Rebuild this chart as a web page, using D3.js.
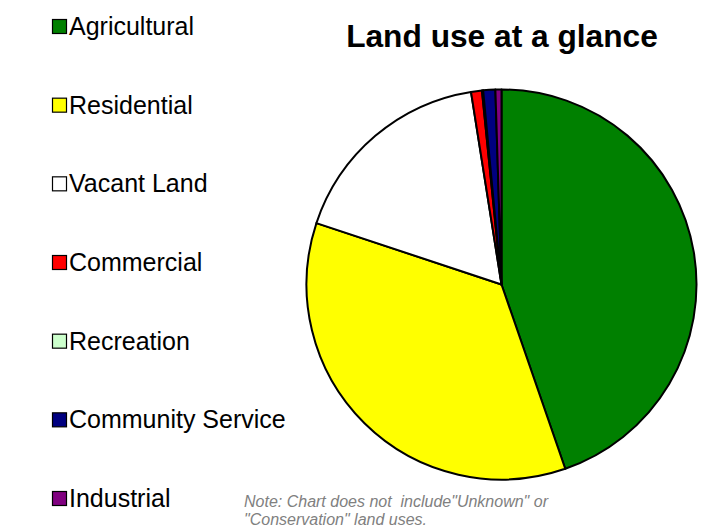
<!DOCTYPE html>
<html>
<head>
<meta charset="utf-8">
<script src="https://cdn.jsdelivr.net/npm/d3@7"></script>
<style>
  html, body { margin: 0; padding: 0; background: #fff; }
  svg { display: block; }
  text { font-family: "Liberation Sans", Arial, sans-serif; }
</style>
</head>
<body>
<svg id="chart" width="703" height="529"></svg>
<script>
// Land use shares (percent), in drawing order clockwise from 12 o'clock
const categories = ["Agricultural", "Residential", "Vacant Land", "Commercial", "Recreation", "Community Service", "Industrial"];
const shares = [44.7, 35.4, 17.4, 0.9, 0.1, 1.0, 0.5];
const colors = ["#008000", "#FFFF00", "#FFFFFF", "#FF0000", "#CCFFCC", "#000080", "#800080"];
const titleText = "Land use at a glance";
const noteLines = ["Note: Chart does not  include\"Unknown\" or", "\"Conservation\" land uses."];

const svg = d3.select("#chart");
const data = categories.map((c, i) => ({ category: c, value: shares[i], color: colors[i] }));

// Pie
const cx = 501.5, cy = 284.5, radius = 195;
const pie = d3.pie().sort(null).value(d => d.value);
const arc = d3.arc().innerRadius(0).outerRadius(radius);

svg.append("g")
  .attr("transform", `translate(${cx},${cy})`)
  .selectAll("path")
  .data(pie(data))
  .join("path")
  .attr("d", arc)
  .attr("fill", d => d.data.color)
  .attr("stroke", "#000")
  .attr("stroke-width", 2)
  .attr("stroke-linejoin", "round");

// Title
svg.append("text")
  .attr("x", 502)
  .attr("y", 47)
  .attr("text-anchor", "middle")
  .attr("font-size", 31.7)
  .attr("font-weight", "bold")
  .attr("fill", "#000")
  .text(titleText);

// Legend
const legendY = d3.scalePoint().domain(categories).range([19, 491]);
const legend = svg.append("g")
  .selectAll("g")
  .data(data)
  .join("g")
  .attr("transform", d => `translate(52,${legendY(d.category)})`);

legend.append("rect")
  .attr("x", 0.5)
  .attr("y", 0.5)
  .attr("width", 14)
  .attr("height", 14)
  .attr("fill", d => d.color)
  .attr("stroke", "#000")
  .attr("stroke-width", 1.2);

legend.append("text")
  .attr("x", 17)
  .attr("y", 16)
  .attr("font-size", 25)
  .attr("fill", "#000")
  .text(d => d.category);

// Footnote
svg.append("g")
  .selectAll("text")
  .data(noteLines)
  .join("text")
  .attr("x", 244)
  .attr("y", (d, i) => 506.5 + i * 18)
  .attr("font-size", 16)
  .attr("font-style", "italic")
  .attr("fill", "#808080")
  .style("white-space", "pre")
  .text(d => d);
</script>
</body>
</html>
